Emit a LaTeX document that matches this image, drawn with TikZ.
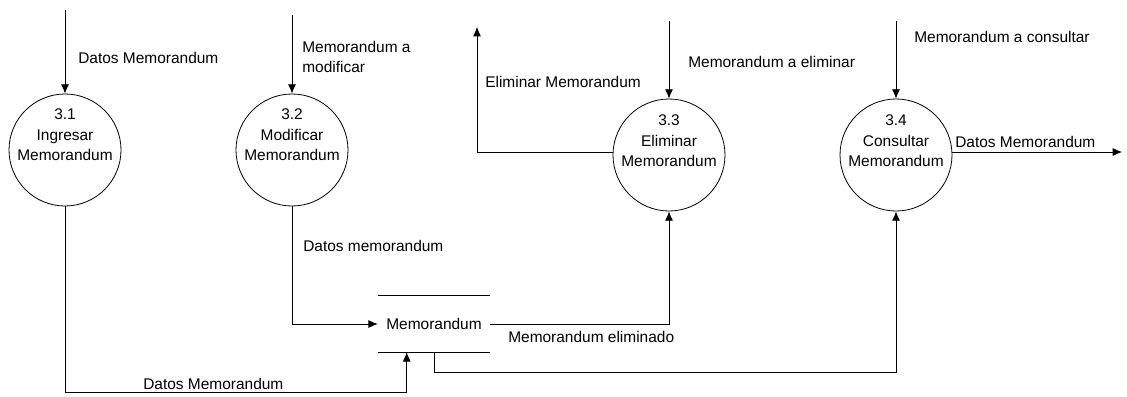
\documentclass[tikz,border=0pt]{standalone}
\usepackage{fontspec}
\setmainfont{Liberation Sans}
\usetikzlibrary{arrows.meta,calc}
\begin{document}
\begin{tikzpicture}[x=0.75pt,y=-0.75pt,
  every node/.style={font=\fontsize{11.6}{15.5}\selectfont},
  proc/.style={draw,circle,line width=0.6pt,minimum size=84pt,inner sep=0pt},
  ptext/.style={align=center,inner sep=0pt},
  lbl/.style={anchor=west,align=left,inner sep=0pt},
  flow/.style={line width=0.6pt,-{Latex[length=7pt,width=6pt]}},
  plain/.style={line width=0.6pt}]
\useasboundingbox (0,0) rectangle (1127,396);

% processes
\node[proc] (p1) at (65,150) {};
\node[proc] (p2) at (292,150) {};
\node[proc] (p3) at (669,155) {};
\node[proc] (p4) at (896,155) {};
\node[ptext] (t1) at (65,135) {3.1\\Ingresar\\Memorandum};
\node[ptext] (t2) at (292,135) {3.2\\Modificar\\Memorandum};
\node[ptext] (t3) at (669,141) {3.3\\Eliminar\\Memorandum};
\node[ptext] (t4) at (896,141) {3.4\\Consultar\\Memorandum};

% data store
\node[minimum width=84pt,minimum height=42pt,inner sep=0pt] (st) at (434,324) {Memorandum};
\draw[plain] (st.north west) -- (st.north east);
\draw[plain] (st.south west) -- (st.south east);

% external ends
\coordinate (i1) at (65,10);
\coordinate (i2) at (292,15);
\coordinate (i3) at (669,21);
\coordinate (i4) at (896,21);
\coordinate (o3) at (477,27);
\coordinate (o4) at (1122,152);
\coordinate (b1) at (65,392);
\coordinate (stin) at ($(st.south west)+(29,0)$);

% flows
\draw[flow] (i1) -- (p1);
\draw[flow] (i2) -- (p2);
\draw[flow] (i3) -- (p3);
\draw[flow] (i4) -- (p4);
\draw[flow] (p3.west |- 0,152) -| (o3);
\draw[flow] (p4.east |- 0,152) -- (o4);
\draw[flow] (p2.south) |- (st.west);
\draw[flow] (st.east) -| (p3.south);
\draw[flow] (st.south) -- ++(0,20) -| (p4.south);
\draw[flow] (p1.south) -- (b1) -| (stin);

% flow labels
\node[lbl] (l1) at (78,58) {Datos Memorandum};
\node[lbl] (l2) at (302,57) {Memorandum a\\modificar};
\node[lbl] (l3) at (485,82) {Eliminar Memorandum};
\node[lbl] (l4) at (688,62) {Memorandum a eliminar};
\node[lbl] (l5) at (914,37) {Memorandum a consultar};
\node[lbl] (l6) at (955,142) {Datos Memorandum};
\node[lbl] (l7) at (303,246) {Datos memorandum};
\node[lbl] (l8) at (508,337) {Memorandum eliminado};
\node[lbl] (l9) at (143,384) {Datos Memorandum};
\end{tikzpicture}
\end{document}
